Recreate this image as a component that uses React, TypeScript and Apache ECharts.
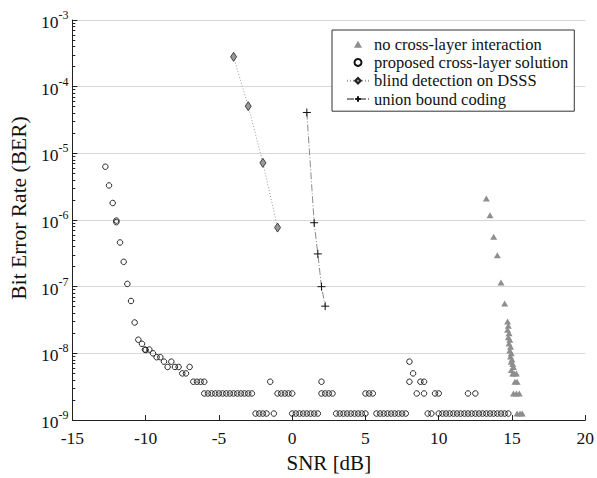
import { useEffect, useRef } from "react";
import * as echarts from "echarts";

// ---- data ----
const TRI_SNR = [13.25, 13.5, 13.75, 14, 14.25, 14.5, 14.7, 14.75, 14.7, 14.8, 14.75, 14.85, 14.8, 14.9, 14.85, 14.95, 14.9, 15.0, 14.95, 15.05, 15.1, 14.95, 15.15, 15.3, 15.05, 15.2, 15.35, 15.1, 15.3, 15.5, 15.35, 15.55, 15.7];
const TRI_BER = [2.1e-6, 1.18e-6, 5.6e-7, 2.95e-7, 1.15e-7, 5.6e-8, 3.0e-8, 2.6e-8, 2.25e-8, 2.0e-8, 1.75e-8, 1.6e-8, 1.4e-8, 1.25e-8, 1.1e-8, 1.0e-8, 9e-9, 8.1e-9, 7.5e-9, 6.9e-9, 6.25e-9, 5.6e-9, 5e-9, 5e-9, 5e-9, 3.75e-9, 3.75e-9, 2.5e-9, 2.5e-9, 2.5e-9, 1.25e-9, 1.25e-9, 1.25e-9];

// proposed cross-layer solution: waterfall part
const CIR_SNR = [-12.75, -12.5, -12.25, -12, -12, -11.75, -11.5, -11.25, -11, -10.75, -10.5, -10.25, -10.05, -10, -9.75, -9.5, -9.25, -9, -8.75, -8.5, -8.25, -8, -7.75, -7.5, -7.25, -7, 8, 8.25];
const CIR_BER = [6.3e-6, 3.3e-6, 1.8e-6, 9.8e-7, 9.3e-7, 4.6e-7, 2.36e-7, 1.1e-7, 6.1e-8, 2.9e-8, 1.6e-8, 1.39e-8, 1.14e-8, 1.12e-8, 1.14e-8, 1.0e-8, 8.75e-9, 8.75e-9, 7.5e-9, 6.25e-9, 7.5e-9, 6.25e-9, 6.25e-9, 5e-9, 5e-9, 6.25e-9, 7.5e-9, 5e-9];
// proposed cross-layer solution: floor rows (SNR values at each BER level)
const ROW_LEVEL_A = 3.75e-9;
const ROW_SNR_A = [-6.75, -6.5, -6.25, -6, -1.5, 2, 8, 8.75, 9];
const ROW_LEVEL_B = 2.5e-9;
const ROW_SNR_B = [-6, -5.75, -5.5, -5.25, -5, -4.75, -4.5, -4.25, -4, -3.75, -3.5, -3.25, -3, -2.75, -1, -0.75, -0.5, -0.25, 0, 2, 2.25, 2.5, 2.75, 5, 5.25, 5.5, 8.5, 9, 9.75, 10, 12, 12.5];
const ROW_LEVEL_C = 1.25e-9;
const ROW_SNR_C = [-2.5, -2.25, -2, -1.75, -1.25, 0, 0.25, 0.5, 0.75, 1, 1.25, 1.5, 1.75, 3, 3.25, 3.5, 3.75, 4, 4.25, 4.5, 4.75, 5, 5.75, 6, 6.25, 6.5, 6.75, 7, 7.25, 7.5, 7.75, 9.25, 9.5, 10, 10.25, 10.5, 10.75, 11, 11.25, 11.5, 11.75, 12, 12.25, 12.5, 12.75, 13, 13.25, 13.5, 13.75, 14, 14.25, 14.5, 14.75];

const DSSS_SNR = [-4, -3, -2, -1];
const DSSS_BER = [2.8e-4, 5.1e-5, 7.2e-6, 7.7e-7];

const UB_SNR = [1, 1.5, 1.75, 2, 2.25];
const UB_BER = [4.1e-5, 9.1e-7, 3.1e-7, 1.0e-7, 5.1e-8];

const SERIES_NAMES = [
  "no cross-layer interaction",
  "proposed cross-layer solution",
  "blind detection on DSSS",
  "union bound coding",
];

const DECADES = [-9, -8, -7, -6, -5, -4];
const MINOR_MULT = [2, 3, 4, 5, 6, 7, 8, 9];

const FONT = "Liberation Serif";
const TRI_ICON = "path://M0 -1 L0.866 0.5 L-0.866 0.5 Z";

function zip(xs: number[], ys: number[]) {
  return xs.map((x, i) => [x, ys[i]]);
}

export default function App() {
  const ref = useRef<HTMLDivElement>(null);
  useEffect(() => {
    const chart = echarts.init(ref.current!, null, { renderer: "svg" });

    const minorVals: number[] = [];
    DECADES.forEach((d) => MINOR_MULT.forEach((m) => minorVals.push(m * Math.pow(10, d))));

    const circles = [
      ...zip(CIR_SNR, CIR_BER),
      ...ROW_SNR_A.map((s) => [s, ROW_LEVEL_A]),
      ...ROW_SNR_B.map((s) => [s, ROW_LEVEL_B]),
      ...ROW_SNR_C.map((s) => [s, ROW_LEVEL_C]),
    ];

    chart.setOption({
      animation: false,
      backgroundColor: "#fff",
      textStyle: { fontFamily: FONT },
      grid: { left: 68.5, right: 10, top: 20, bottom: 49, containLabel: false },
      legend: {
        orient: "vertical",
        left: 332,
        top: 30,
        padding: [5, 6, 3, 14],
        itemGap: 0,
        itemWidth: 22,
        itemHeight: 7,
        symbolKeepAspect: true,
        backgroundColor: "#fff",
        borderColor: "#333",
        borderWidth: 1,
        textStyle: { fontFamily: FONT, fontSize: 16.5, color: "#111", lineHeight: 18.3 },
        data: [
          { name: SERIES_NAMES[0], icon: TRI_ICON },
          { name: SERIES_NAMES[1] },
          { name: SERIES_NAMES[2] },
          { name: SERIES_NAMES[3] },
        ],
      },
      xAxis: {
        type: "value",
        min: -15,
        max: 20,
        interval: 5,
        name: "SNR [dB]",
        nameLocation: "middle",
        nameGap: 32,
        nameTextStyle: { fontFamily: FONT, fontSize: 21, color: "#111" },
        axisLine: { onZero: false, lineStyle: { color: "#222", width: 1 } },
        axisTick: { inside: true, length: 5, lineStyle: { color: "#222" } },
        axisLabel: { fontFamily: FONT, fontSize: 17.5, color: "#111", margin: 9 },
        splitLine: { show: false },
      },
      yAxis: {
        type: "log",
        logBase: 10,
        min: 1e-9,
        max: 1e-3,
        splitNumber: 6,
        name: "Bit Error Rate (BER)",
        nameLocation: "middle",
        nameGap: 38,
        nameTextStyle: { fontFamily: FONT, fontSize: 21.5, color: "#111", padding: [0, 0, 0, 24] },
        axisLine: { show: true, onZero: false, lineStyle: { color: "#222", width: 1 } },
        axisTick: { inside: true, length: 5, lineStyle: { color: "#222" } },
        splitLine: { show: true, lineStyle: { color: "#d8d8d8", width: 1 } },
        axisLabel: {
          margin: 4,
          formatter: (v: number) => `{a|10}{b|${Math.round(Math.log10(v))}}`,
          rich: {
            a: { fontFamily: FONT, fontSize: 17.5, color: "#111", lineHeight: 22, verticalAlign: "bottom" },
            b: { fontFamily: FONT, fontSize: 12, color: "#111", lineHeight: 12, verticalAlign: "top" },
          },
        },
      },
      series: [
        {
          name: SERIES_NAMES[0],
          type: "scatter",
          symbol: "triangle",
          symbolSize: [7, 6],
          itemStyle: { color: "#8e8e8e", opacity: 1 },
          data: zip(TRI_SNR, TRI_BER),
          z: 2,
          markLine: {
            silent: true,
            symbol: "none",
            label: { show: false },
            lineStyle: { color: "#222", width: 1, type: "solid" },
            data: minorVals.map((v) => [{ coord: [-15, v] }, { coord: [-14.8, v] }]),
          },
        },
        {
          name: SERIES_NAMES[1],
          type: "scatter",
          symbol: "circle",
          symbolSize: 5.5,
          itemStyle: { color: "rgba(255,255,255,0)", borderColor: "#111", borderWidth: 0.9, opacity: 1 },
          data: circles,
          z: 3,
          markLine: {
            silent: true,
            symbol: "none",
            label: { show: false },
            lineStyle: { color: "#c4c4c4", width: 1, type: [1, 2] },
            data: minorVals.map((v) => ({ yAxis: v })),
            z: 1,
          },
        },
        {
          name: SERIES_NAMES[2],
          type: "line",
          symbol: "diamond",
          symbolSize: [6, 9],
          showAllSymbol: true,
          itemStyle: { color: "#9a9a9a", borderColor: "#222", borderWidth: 0.8 },
          lineStyle: { color: "#9a9a9a", width: 1, type: [1, 2] },
          data: zip(DSSS_SNR, DSSS_BER),
          z: 4,
        },
        {
          name: SERIES_NAMES[3],
          type: "line",
          symbol: "path://M5 0 L5 10 M0 5 L10 5",
          symbolSize: 8,
          showAllSymbol: true,
          itemStyle: { color: "none", borderColor: "#111", borderWidth: 1 },
          lineStyle: { color: "#8a8a8a", width: 1, type: [7, 2, 1, 2] },
          data: zip(UB_SNR, UB_BER),
          z: 4,
        },
      ],
    });
    return () => chart.dispose();
  }, []);
  return <div ref={ref} style={{ position: "absolute", left: 0, top: 0, width: 597, height: 478 }} />;
}
